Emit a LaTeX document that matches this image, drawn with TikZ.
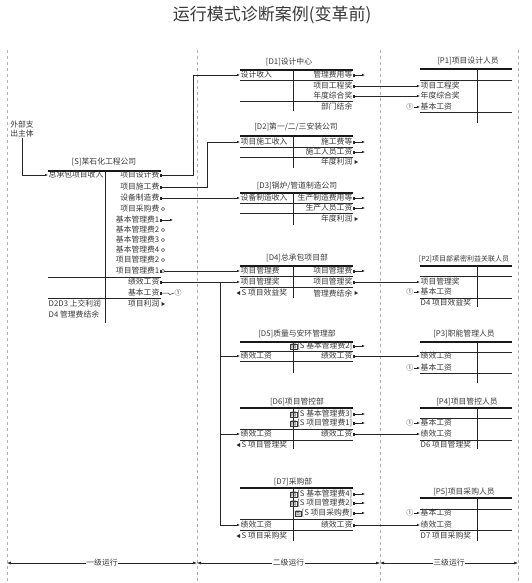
\documentclass[tikz,border=0pt]{standalone}
\usepackage{fontspec}
\setmainfont{Noto Sans CJK SC}
\usepackage{tikz}
\usetikzlibrary{arrows.meta,positioning}
\newcommand{\rtri}[1]{\fill[black!85] (#1) ++(1.5,-2) -- ++(0,4) -- ++(3.5,-2) -- cycle;}
\newcommand{\ltri}[1]{\fill[black!85] (#1) ++(-1,-2) -- ++(0,4) -- ++(-3.5,-2) -- cycle;}
\newcommand{\ocirc}[1]{\draw[black!85, line width=0.4pt, fill=white] (#1) ++(3,0) circle (1.6);}
\newcommand{\ficon}{{\setlength{\fboxsep}{0.3pt}\fbox{\fontsize{5.5}{6}\selectfont 图}}}

\begin{document}
\begin{tikzpicture}[
  x=1pt, y=-1pt,
  every node/.style={font=\fontsize{7.8}{9}\selectfont, text=black!78, inner sep=0.5pt},
  lt/.style={anchor=west},
  rt/.style={anchor=east},
  rule/.style={black!85, line width=0.5pt},
  toprule/.style={black!90, line width=1.1pt},
  flow/.style={black!85, line width=0.5pt, -{Latex[length=3pt,width=2.4pt]}},
  pay/.style={black!85, line width=0.5pt, {Square[length=1.8pt,width=2.4pt]}-{Latex[length=3pt,width=2.4pt]}},
  tag/.style={black!85, line width=0.5pt, {Square[length=1.8pt,width=2.4pt]}-},
  dim/.style={black!85, line width=0.5pt, {Latex[length=4pt,width=3pt]}-{Latex[length=4pt,width=3pt]}},
  zone/.style={dashed, gray!60, line width=0.4pt},
  num/.style={font=\fontsize{7}{7}\selectfont},
]
  \useasboundingbox (0,0) rectangle (532,583);

  \node[font=\fontsize{17}{19}\selectfont] (title) at (272,15) {运行模式诊断案例(变革前)};

  % zones
  \draw[zone] (7,50) -- (7,583);
  \draw[zone] (197,50) -- (197,583);
  \draw[zone] (380,50) -- (380,583);
  \draw[zone] (518,50) -- (518,583);

  % S
  \node[align=left] (ext) at (22,129) {外部支\\出主体};
  \node (stitle) at (104,162) {[S]某石化工程公司};
  \draw[toprule] (48,171) -- (161,171);
  \draw[rule] (105,171) -- (105,323);
  \draw[rule] (48,277) -- (161,277);
  \draw[rule] (48,298) -- (161,298);
  \node[lt] (sin) at (48,175) {总承包项目收入};
  \node[lt] (sd1) at (48,304) {D2D3 上交利润};
  \node[lt] (sd2) at (48,314) {D4 管理费结余};
  \node[rt] (s1) at (160,175) {项目设计费};
  \node[rt] (s2) at (160,187) {项目施工费};
  \node[rt] (s3) at (160,198) {设备制造费};
  \node[rt] (s4) at (160,209) {项目采购费};
  \node[rt] (s5) at (160,220) {基本管理费1};
  \node[rt] (s6) at (160,230) {基本管理费2};
  \node[rt] (s7) at (160,240) {基本管理费3};
  \node[rt] (s8) at (160,250) {基本管理费4};
  \node[rt] (s9) at (160,260) {项目管理费2};
  \node[rt] (s10) at (160,271) {项目管理费1};
  \node[rt] (s11) at (160,282) {绩效工资};
  \node[rt] (s12) at (160,293) {基本工资};
  \node[rt] (s13) at (160,304) {项目利润};
  \node[num, right=14pt of s12] (s12n) {①};

  % D1
  \node (d1t) at (289,62) {[D1]设计中心};
  \draw[toprule] (240,70) -- (353,70);
  \draw[rule] (240,80) -- (353,80);
  \draw[rule] (240,101) -- (353,101);
  \draw[rule] (293,70) -- (293,111);
  \node[lt] (d1a) at (240,75) {设计收入};
  \node[rt] (d1r1) at (353,75) {管理费用等};
  \node[rt] (d1r2) at (353,86) {项目工程奖};
  \node[rt] (d1r3) at (353,96) {年度综合奖};
  \node[rt] (d1r4) at (353,107) {部门结余};

  % D2
  \node (d2t) at (296,127) {[D2]第一/二/三安装公司};
  \draw[toprule] (240,136) -- (353,136);
  \draw[rule] (240,147) -- (353,147);
  \draw[rule] (240,157) -- (353,157);
  \draw[rule] (293,136) -- (293,168);
  \node[lt] (d2a) at (240,142) {项目施工收入};
  \node[rt] (d2r1) at (353,142) {施工费等};
  \node[rt] (d2r2) at (353,152) {施工人员工资};
  \node[rt] (d2r3) at (353,162) {年度利润};

  % D3
  \node (d3t) at (297,186) {[D3]锅炉/管道制造公司};
  \draw[toprule] (240,193) -- (353,193);
  \draw[rule] (240,203) -- (353,203);
  \draw[rule] (240,213) -- (353,213);
  \draw[rule] (293,193) -- (293,225);
  \node[lt] (d3a) at (240,198) {设备制造收入};
  \node[rt] (d3r1) at (353,198) {生产制造费用等};
  \node[rt] (d3r2) at (353,208) {生产人员工资};
  \node[rt] (d3r3) at (353,219) {年度利润};

  % D4
  \node (d4t) at (297,258) {[D4]总承包项目部};
  \draw[toprule] (240,266) -- (353,266);
  \draw[rule] (240,276) -- (353,276);
  \draw[rule] (240,287) -- (353,287);
  \draw[rule] (293,266) -- (293,298);
  \node[lt] (d4a) at (240,271) {项目管理费};
  \node[lt] (d4b) at (240,282) {项目管理奖};
  \node[lt] (d4c) at (241,293) {S 项目效益奖};
  \node[rt] (d4r1) at (353,271) {项目管理费};
  \node[rt] (d4r2) at (353,282) {项目管理奖};
  \node[rt] (d4r3) at (353,293) {管理费结余};

  % D5
  \node (d5t) at (297,334) {[D5]质量与安环管理部};
  \draw[toprule] (240,342) -- (353,342);
  \draw[rule] (240,351) -- (353,351);
  \draw[rule] (240,361) -- (353,361);
  \draw[rule] (293,342) -- (293,373);
  \node[rt] (d5r1) at (353,346) {\ficon{}[S 基本管理费2]};
  \node[lt] (d5b) at (240,356) {绩效工资};
  \node[rt] (d5r2) at (353,356) {绩效工资};

  % D6
  \node (d6t) at (297,402) {[D6]项目管控部};
  \draw[toprule] (240,408) -- (353,408);
  \draw[rule] (240,429) -- (353,429);
  \draw[rule] (240,440) -- (353,440);
  \draw[rule] (293,408) -- (293,449);
  \node[rt] (d6r1) at (353,414) {\ficon{}[S 基本管理费3]};
  \node[rt] (d6r2) at (353,423) {\ficon{}[S 项目管理费1]};
  \node[lt] (d6b) at (240,434) {绩效工资};
  \node[rt] (d6r3) at (353,434) {绩效工资};
  \node[lt] (d6c) at (241,445) {S 项目管理奖};

  % D7
  \node (d7t) at (293,482) {[D7]采购部};
  \draw[toprule] (240,488) -- (353,488);
  \draw[rule] (240,519) -- (353,519);
  \draw[rule] (240,530) -- (353,530);
  \draw[rule] (293,488) -- (293,541);
  \node[rt] (d7r1) at (353,494) {\ficon{}[S 基本管理费4]};
  \node[rt] (d7r2) at (353,503) {\ficon{}[S 项目管理费2]};
  \node[rt] (d7r3) at (353,513) {\ficon{}[S 项目采购费]};
  \node[lt] (d7b) at (240,525) {绩效工资};
  \node[rt] (d7r4) at (353,525) {绩效工资};
  \node[lt] (d7c) at (241,536) {S 项目采购奖};

  % P1
  \node (p1t) at (468,61) {[P1]项目设计人员};
  \draw[toprule] (420,69) -- (512,69);
  \draw[rule] (420,80) -- (512,80);
  \draw[rule] (420,112) -- (512,112);
  \draw[rule] (477,69) -- (477,123);
  \node[lt] (p1a) at (420,86) {项目工程奖};
  \node[lt] (p1b) at (420,96) {年度综合奖};
  \node[lt] (p1c) at (420,107) {基本工资};
  \node[num, left=6pt of p1c] (p1n) {①};

  % P2
  \node[font=\fontsize{7}{8}\selectfont] (p2t) at (464,259) {[P2]项目部紧密利益关联人员};
  \draw[toprule] (420,266) -- (512,266);
  \draw[rule] (420,276) -- (512,276);
  \draw[rule] (420,298) -- (512,298);
  \draw[rule] (477,266) -- (477,307);
  \node[lt] (p2a) at (420,282) {项目管理奖};
  \node[lt] (p2b) at (420,292) {基本工资};
  \node[lt] (p2c) at (420,303) {D4 项目效益奖};
  \node[num, left=6pt of p2b] (p2n) {①};

  % P3
  \node (p3t) at (464,334) {[P3]职能管理人员};
  \draw[toprule] (420,342) -- (512,342);
  \draw[rule] (420,352) -- (512,352);
  \draw[rule] (420,373) -- (512,373);
  \draw[rule] (477,342) -- (477,383);
  \node[lt] (p3a) at (420,356) {绩效工资};
  \node[lt] (p3b) at (420,368) {基本工资};
  \node[num, left=6pt of p3b] (p3n) {①};

  % P4
  \node (p4t) at (467,402) {[P4]项目管控人员};
  \draw[toprule] (420,408) -- (512,408);
  \draw[rule] (420,418) -- (512,418);
  \draw[rule] (420,440) -- (512,440);
  \draw[rule] (477,408) -- (477,449);
  \node[lt] (p4a) at (420,423) {基本工资};
  \node[lt] (p4b) at (420,434) {绩效工资};
  \node[lt] (p4c) at (420,445) {D6 项目管理奖};
  \node[num, left=6pt of p4a] (p4n) {①};

  % P5
  \node (p5t) at (464,492) {[P5]项目采购人员};
  \draw[toprule] (420,498) -- (512,498);
  \draw[rule] (420,509) -- (512,509);
  \draw[rule] (420,530) -- (512,530);
  \draw[rule] (477,498) -- (477,541);
  \node[lt] (p5a) at (420,513) {基本工资};
  \node[lt] (p5b) at (420,525) {绩效工资};
  \node[lt] (p5c) at (420,536) {D7 项目采购奖};
  \node[num, left=6pt of p5a] (p5n) {①};

  % S -> D
  \draw[flow] (ext.south) |- (sin.west);
  \draw[pay] (s1.east) -- ++(33,0) |- (d1a.west);
  \draw[pay] (s2.east) -- ++(47,0) |- (d2a.west);
  \draw[pay] (s3.east) -- (d3a.west);
  \draw[pay] (s10.east) -- (d4a.west);
  \draw[pay] (s11.east) -- (d4b.west);
  \coordinate (fork) at (220,282);
  \draw[flow] (fork) |- (d5b.west);
  \draw[flow] (fork) |- (d6b.west);
  \draw[flow] (fork) |- (d7b.west);
  \draw[pay] (s5.east) -- ++(13,0);
  \draw[tag] (s12.east) -- ++(8,0) -- ++(2,1.5) -- (s12n.west);
  \ocirc{s4.east}
  \ocirc{s6.east}
  \ocirc{s7.east}
  \ocirc{s8.east}
  \ocirc{s9.east}
  \ocirc{s10.east}
  \rtri{s13.east}

  % D -> out
  \draw[pay] (d1r1.east) -- ++(12,0);
  \draw[pay] (d2r1.east) -- ++(12,0);
  \draw[pay] (d2r2.east) -- ++(12,0);
  \draw[pay] (d3r1.east) -- ++(12,0);
  \draw[pay] (d3r2.east) -- ++(12,0);
  \draw[pay] (d4r1.east) -- ++(12,0);
  \draw[pay] (d5r1.east) -- ++(12,0);
  \draw[pay] (d6r1.east) -- ++(12,0);
  \draw[pay] (d6r2.east) -- ++(12,0);
  \draw[pay] (d7r1.east) -- ++(12,0);
  \draw[pay] (d7r2.east) -- ++(12,0);
  \draw[pay] (d7r3.east) -- ++(12,0);
  \rtri{d2r3.east}
  \rtri{d3r3.east}
  \rtri{d4r3.east}
  \ltri{d4c.west}
  \ltri{d6c.west}
  \ltri{d7c.west}

  % D -> P
  \draw[pay] (d1r2.east) -- (p1a.west);
  \draw[pay] (d1r3.east) -- (p1b.west);
  \draw[pay] (d4r2.east) -- (p2a.west);
  \draw[pay] (d5r2.east) -- (p3a.west);
  \draw[pay] (d6r3.east) -- (p4b.west);
  \draw[pay] (d7r4.east) -- (p5b.west);
  \draw[flow] (p1n) -- (p1c);
  \draw[flow] (p2n) -- (p2b);
  \draw[flow] (p3n) -- (p3b);
  \draw[flow] (p4n) -- (p4a);
  \draw[flow] (p5n) -- (p5a);

  % levels
  \coordinate (z0) at (7,563);
  \coordinate (z1) at (197,563);
  \coordinate (z2) at (380,563);
  \coordinate (z3) at (518,563);
  \draw[dim] (z0) -- node[fill=white] (lv1) {一级运行} (z1);
  \draw[dim] (z1) -- node[fill=white] (lv2) {二级运行} (z2);
  \draw[dim] (z2) -- node[fill=white] (lv3) {三级运行} (z3);
\end{tikzpicture}
\end{document}
